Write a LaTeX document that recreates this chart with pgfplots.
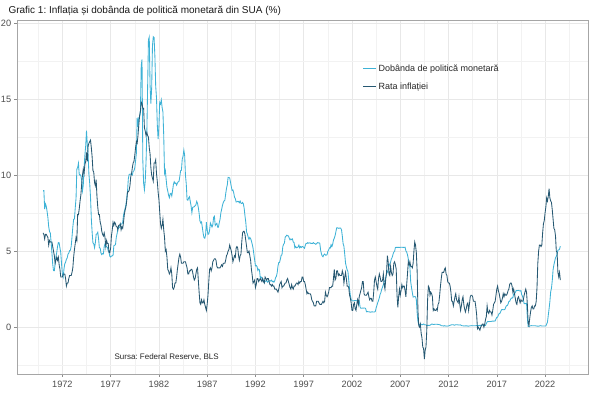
\documentclass[border=0pt]{standalone}
\usepackage{fontspec}
\setmainfont{Liberation Sans}
\usepackage{pgfplots}
\usepackage{pgfplotstable}
\pgfplotsset{compat=1.18}
\frenchspacing
\definecolor{rateblue}{RGB}{62,178,214}
\definecolor{infldark}{RGB}{38,88,114}
\definecolor{ticktext}{RGB}{77,77,77}

% Effective federal funds rate, monthly, Jan 1970 - Aug 2023
\pgfplotstableread[row sep=\\,header=false]{
8.98\\8.98\\7.76\\8.10\\7.95\\7.61\\7.21\\6.61\\6.29\\6.20\\5.60\\4.90\\
4.14\\3.72\\3.71\\4.15\\4.63\\4.91\\5.31\\5.56\\5.55\\5.20\\4.91\\4.14\\
3.50\\3.29\\3.83\\4.17\\4.27\\4.46\\4.55\\4.80\\4.87\\5.04\\5.06\\5.33\\
5.94\\6.58\\7.09\\7.12\\7.84\\8.49\\10.40\\10.50\\10.78\\10.01\\10.03\\9.95\\
9.65\\8.97\\9.35\\10.51\\11.31\\11.93\\12.92\\12.01\\11.34\\10.06\\9.45\\8.53\\
7.13\\6.24\\5.54\\5.49\\5.22\\5.55\\6.10\\6.14\\6.24\\5.82\\5.22\\5.20\\
4.87\\4.77\\4.84\\4.82\\5.29\\5.48\\5.31\\5.29\\5.25\\5.02\\4.95\\4.65\\
4.61\\4.68\\4.69\\4.73\\5.35\\5.39\\5.42\\5.90\\6.14\\6.47\\6.51\\6.56\\
6.70\\6.78\\6.79\\6.89\\7.36\\7.60\\7.81\\8.04\\8.45\\8.96\\9.76\\10.03\\
10.07\\10.06\\10.09\\10.01\\10.24\\10.29\\10.47\\10.94\\11.43\\13.77\\13.18\\13.78\\
13.82\\14.13\\17.19\\17.61\\10.98\\9.47\\9.03\\9.61\\10.87\\12.81\\15.85\\18.90\\
19.08\\15.93\\14.70\\15.72\\18.52\\19.10\\19.04\\17.82\\15.87\\15.08\\13.31\\12.37\\
13.22\\14.78\\14.68\\14.94\\14.45\\14.15\\12.59\\10.12\\10.31\\9.71\\9.20\\8.95\\
8.68\\8.51\\8.77\\8.80\\8.63\\8.98\\9.37\\9.56\\9.45\\9.48\\9.34\\9.47\\
9.56\\9.59\\9.91\\10.29\\10.32\\11.06\\11.23\\11.64\\11.30\\9.99\\9.43\\8.38\\
8.35\\8.50\\8.58\\8.27\\7.97\\7.53\\7.88\\7.90\\7.92\\7.99\\8.05\\8.27\\
8.14\\7.86\\7.48\\6.99\\6.85\\6.92\\6.56\\6.17\\5.89\\5.85\\6.04\\6.91\\
6.43\\6.10\\6.13\\6.37\\6.85\\6.73\\6.58\\6.73\\7.22\\7.29\\6.69\\6.77\\
6.83\\6.58\\6.58\\6.87\\7.09\\7.51\\7.75\\8.01\\8.19\\8.30\\8.35\\8.76\\
9.12\\9.36\\9.85\\9.84\\9.81\\9.53\\9.24\\8.99\\9.02\\8.84\\8.55\\8.45\\
8.23\\8.24\\8.28\\8.26\\8.18\\8.29\\8.15\\8.13\\8.20\\8.11\\7.81\\7.31\\
6.91\\6.25\\6.12\\5.91\\5.78\\5.90\\5.82\\5.66\\5.45\\5.21\\4.81\\4.43\\
4.03\\4.06\\3.98\\3.73\\3.82\\3.76\\3.25\\3.30\\3.22\\3.10\\3.09\\2.92\\
3.02\\3.03\\3.07\\2.96\\3.00\\3.04\\3.06\\3.03\\3.09\\2.99\\3.02\\2.96\\
3.05\\3.25\\3.34\\3.56\\4.01\\4.25\\4.26\\4.47\\4.73\\4.76\\5.29\\5.45\\
5.53\\5.92\\5.98\\6.05\\6.01\\6.00\\5.85\\5.74\\5.80\\5.76\\5.80\\5.60\\
5.56\\5.22\\5.31\\5.22\\5.24\\5.27\\5.40\\5.22\\5.30\\5.24\\5.31\\5.29\\
5.25\\5.19\\5.39\\5.51\\5.50\\5.56\\5.52\\5.54\\5.54\\5.50\\5.52\\5.50\\
5.56\\5.51\\5.49\\5.45\\5.49\\5.56\\5.54\\5.55\\5.51\\5.07\\4.83\\4.68\\
4.63\\4.76\\4.81\\4.74\\4.74\\4.76\\4.99\\5.07\\5.22\\5.20\\5.42\\5.30\\
5.45\\5.73\\5.85\\6.02\\6.27\\6.53\\6.54\\6.50\\6.52\\6.51\\6.51\\6.40\\
5.98\\5.49\\5.31\\4.80\\4.21\\3.97\\3.77\\3.65\\3.07\\2.49\\2.09\\1.82\\
1.73\\1.74\\1.73\\1.75\\1.75\\1.75\\1.73\\1.74\\1.75\\1.75\\1.34\\1.24\\
1.24\\1.26\\1.25\\1.26\\1.26\\1.22\\1.01\\1.03\\1.01\\1.01\\1.00\\0.98\\
1.00\\1.01\\1.00\\1.00\\1.00\\1.03\\1.26\\1.43\\1.61\\1.76\\1.93\\2.16\\
2.28\\2.50\\2.63\\2.79\\3.00\\3.04\\3.26\\3.50\\3.62\\3.78\\4.00\\4.16\\
4.29\\4.49\\4.59\\4.79\\4.94\\4.99\\5.24\\5.25\\5.25\\5.25\\5.25\\5.24\\
5.25\\5.26\\5.26\\5.25\\5.25\\5.25\\5.26\\5.02\\4.94\\4.76\\4.49\\4.24\\
3.94\\2.98\\2.61\\2.28\\1.98\\2.00\\2.01\\2.00\\1.81\\0.97\\0.39\\0.16\\
0.15\\0.22\\0.18\\0.15\\0.18\\0.21\\0.16\\0.16\\0.15\\0.12\\0.12\\0.12\\
0.11\\0.13\\0.16\\0.20\\0.20\\0.18\\0.18\\0.19\\0.19\\0.19\\0.19\\0.18\\
0.17\\0.16\\0.14\\0.10\\0.09\\0.09\\0.07\\0.10\\0.08\\0.07\\0.08\\0.07\\
0.08\\0.10\\0.13\\0.14\\0.16\\0.16\\0.16\\0.13\\0.14\\0.16\\0.16\\0.16\\
0.14\\0.15\\0.14\\0.15\\0.11\\0.09\\0.09\\0.08\\0.08\\0.09\\0.08\\0.09\\
0.07\\0.07\\0.08\\0.09\\0.09\\0.10\\0.09\\0.09\\0.09\\0.09\\0.09\\0.12\\
0.11\\0.11\\0.11\\0.12\\0.12\\0.13\\0.13\\0.14\\0.14\\0.12\\0.12\\0.24\\
0.34\\0.38\\0.36\\0.37\\0.37\\0.38\\0.39\\0.40\\0.40\\0.40\\0.41\\0.54\\
0.65\\0.66\\0.79\\0.90\\0.91\\1.04\\1.15\\1.16\\1.15\\1.15\\1.16\\1.30\\
1.41\\1.42\\1.51\\1.69\\1.70\\1.82\\1.91\\1.91\\1.95\\2.19\\2.20\\2.27\\
2.40\\2.40\\2.41\\2.42\\2.39\\2.38\\2.40\\2.13\\2.04\\1.83\\1.55\\1.55\\
1.55\\1.58\\0.65\\0.05\\0.05\\0.08\\0.09\\0.10\\0.09\\0.09\\0.09\\0.09\\
0.09\\0.08\\0.07\\0.07\\0.06\\0.08\\0.10\\0.09\\0.08\\0.08\\0.08\\0.08\\
0.08\\0.08\\0.20\\0.33\\0.77\\1.21\\1.68\\2.33\\2.56\\3.08\\3.78\\4.10\\
4.33\\4.57\\4.65\\4.83\\5.06\\5.08\\5.12\\5.33\\
}\ffr

% CPI inflation, year-on-year, monthly, Jan 1970 - Aug 2023
\pgfplotstableread[row sep=\\,header=false]{
6.2\\6.1\\5.8\\6.1\\6.1\\6.0\\5.9\\5.4\\5.7\\5.6\\5.6\\5.6\\
5.3\\5.0\\4.7\\4.2\\4.4\\4.6\\4.4\\4.6\\4.1\\3.8\\3.3\\3.3\\
3.3\\3.5\\3.5\\3.5\\3.2\\2.7\\2.9\\2.9\\3.2\\3.4\\3.4\\3.4\\
3.6\\3.9\\4.6\\5.1\\5.5\\5.9\\5.7\\7.4\\7.4\\7.8\\8.3\\8.7\\
9.4\\10.0\\10.4\\10.1\\10.7\\10.9\\11.5\\10.9\\11.9\\12.1\\12.2\\12.3\\
11.8\\11.2\\10.3\\10.2\\9.5\\9.3\\9.7\\8.6\\7.9\\7.4\\7.4\\6.9\\
6.7\\6.3\\6.1\\6.0\\6.2\\5.9\\5.3\\5.7\\5.5\\5.5\\4.9\\4.9\\
5.2\\6.0\\6.4\\6.9\\6.7\\6.9\\6.8\\6.6\\6.6\\6.4\\6.7\\6.7\\
6.8\\6.4\\6.6\\6.5\\6.9\\7.4\\7.7\\7.9\\8.3\\8.9\\8.9\\9.0\\
9.3\\9.9\\10.1\\10.5\\10.8\\10.9\\11.3\\11.8\\12.2\\12.1\\12.6\\13.3\\
13.9\\14.2\\14.8\\14.7\\14.4\\14.4\\13.1\\12.9\\12.6\\12.8\\12.6\\12.5\\
11.8\\11.4\\10.5\\10.0\\9.8\\9.6\\10.8\\10.8\\11.0\\10.1\\9.6\\8.9\\
8.4\\7.6\\6.8\\6.5\\6.7\\7.1\\6.4\\5.9\\5.0\\5.1\\4.6\\3.8\\
3.7\\3.5\\3.6\\3.9\\3.5\\2.6\\2.5\\2.6\\2.9\\2.9\\3.3\\3.8\\
4.2\\4.6\\4.8\\4.6\\4.2\\4.2\\4.2\\4.3\\4.3\\4.3\\4.1\\3.9\\
3.5\\3.5\\3.7\\3.7\\3.8\\3.8\\3.6\\3.3\\3.1\\3.2\\3.5\\3.8\\
3.9\\3.1\\2.3\\1.6\\1.5\\1.8\\1.6\\1.6\\1.8\\1.5\\1.3\\1.1\\
1.5\\2.1\\3.0\\3.8\\3.9\\3.7\\3.9\\4.3\\4.4\\4.5\\4.5\\4.4\\
4.0\\3.9\\3.9\\3.9\\3.9\\4.0\\4.1\\4.0\\4.2\\4.2\\4.2\\4.4\\
4.7\\4.8\\5.0\\5.1\\5.4\\5.2\\5.0\\4.7\\4.3\\4.5\\4.7\\4.6\\
5.2\\5.3\\5.2\\4.7\\4.4\\4.7\\4.8\\5.6\\6.2\\6.3\\6.3\\6.1\\
5.7\\5.3\\4.9\\4.9\\5.0\\4.7\\4.4\\3.8\\3.4\\2.9\\3.0\\3.1\\
2.6\\2.8\\3.2\\3.2\\3.0\\3.1\\3.2\\3.1\\3.0\\3.2\\3.0\\2.9\\
3.3\\3.2\\3.1\\3.2\\3.2\\3.0\\2.8\\2.8\\2.7\\2.8\\2.7\\2.7\\
2.5\\2.5\\2.5\\2.4\\2.3\\2.5\\2.8\\2.9\\3.0\\2.6\\2.7\\2.7\\
2.8\\2.9\\2.9\\3.1\\3.2\\3.0\\2.8\\2.6\\2.5\\2.8\\2.6\\2.5\\
2.7\\2.7\\2.8\\2.9\\2.9\\2.8\\3.0\\2.9\\3.0\\3.0\\3.3\\3.3\\
3.0\\3.0\\2.8\\2.5\\2.2\\2.3\\2.2\\2.2\\2.2\\2.1\\1.8\\1.7\\
1.6\\1.4\\1.4\\1.4\\1.7\\1.7\\1.7\\1.6\\1.5\\1.5\\1.5\\1.6\\
1.7\\1.6\\1.7\\2.3\\2.1\\2.0\\2.1\\2.3\\2.6\\2.6\\2.6\\2.7\\
2.7\\3.2\\3.8\\3.1\\3.2\\3.7\\3.7\\3.4\\3.5\\3.4\\3.4\\3.4\\
3.7\\3.5\\2.9\\3.3\\3.6\\3.2\\2.7\\2.7\\2.6\\2.1\\1.9\\1.6\\
1.1\\1.1\\1.5\\1.6\\1.2\\1.1\\1.5\\1.8\\1.5\\2.0\\2.2\\2.4\\
2.6\\3.0\\3.0\\2.2\\2.1\\2.1\\2.1\\2.2\\2.3\\2.0\\1.8\\1.9\\
1.9\\1.7\\1.7\\2.3\\3.1\\3.3\\3.0\\2.7\\2.5\\3.2\\3.5\\3.3\\
3.0\\3.0\\3.1\\3.5\\2.8\\2.5\\3.2\\3.6\\4.7\\4.3\\3.5\\3.4\\
4.0\\3.6\\3.4\\3.5\\4.2\\4.3\\4.1\\3.8\\2.1\\1.3\\2.0\\2.5\\
2.1\\2.4\\2.8\\2.6\\2.7\\2.7\\2.4\\2.0\\2.8\\3.5\\4.3\\4.1\\
4.3\\4.0\\4.0\\3.9\\4.2\\5.0\\5.6\\5.4\\4.9\\3.7\\1.1\\0.1\\
0.0\\0.2\\-0.4\\-0.7\\-1.3\\-1.4\\-2.1\\-1.5\\-1.3\\-0.2\\1.8\\2.7\\
2.6\\2.1\\2.3\\2.2\\2.0\\1.1\\1.2\\1.1\\1.1\\1.2\\1.1\\1.5\\
1.6\\2.1\\2.7\\3.2\\3.6\\3.6\\3.6\\3.8\\3.9\\3.5\\3.4\\3.0\\
2.9\\2.9\\2.7\\2.3\\1.7\\1.7\\1.4\\1.7\\2.0\\2.2\\1.8\\1.7\\
1.6\\2.0\\1.5\\1.1\\1.4\\1.8\\2.0\\1.5\\1.2\\1.0\\1.2\\1.5\\
1.6\\1.1\\1.5\\2.0\\2.1\\2.1\\2.0\\1.7\\1.7\\1.7\\1.3\\0.8\\
-0.1\\0.0\\-0.1\\-0.2\\0.0\\0.1\\0.2\\0.2\\0.0\\0.2\\0.5\\0.7\\
1.4\\1.0\\0.9\\1.1\\1.0\\1.0\\0.8\\1.1\\1.5\\1.6\\1.7\\2.1\\
2.5\\2.7\\2.4\\2.2\\1.9\\1.6\\1.7\\1.9\\2.2\\2.0\\2.2\\2.1\\
2.1\\2.2\\2.4\\2.5\\2.8\\2.9\\2.9\\2.7\\2.3\\2.5\\2.2\\1.9\\
1.6\\1.5\\1.9\\2.0\\1.8\\1.6\\1.8\\1.7\\1.7\\1.8\\2.1\\2.3\\
2.5\\2.3\\1.5\\0.3\\0.1\\0.6\\1.0\\1.3\\1.4\\1.2\\1.2\\1.4\\
1.4\\1.7\\2.6\\4.2\\5.0\\5.4\\5.4\\5.3\\5.4\\6.2\\6.8\\7.0\\
7.5\\7.9\\8.5\\8.3\\8.6\\9.1\\8.5\\8.3\\8.2\\7.7\\7.1\\6.5\\
6.4\\6.0\\5.0\\4.9\\3.6\\3.3\\3.6\\3.1\\
}\cpi

\begin{document}
\begin{tikzpicture}[x=1pt,y=1pt]
\path[use as bounding box] (-17,-25) rectangle (583,374);
\begin{axis}[
  at={(0,0)}, anchor=south west,
  scale only axis, width=571pt, height=354pt,
  xmin=1967.3, xmax=2026.45,
  ymin=-3.08, ymax=20.2,
  xtick={1972,1977,...,2022},
  minor xtick={1969.5,1974.5,...,2024.5},
  ytick={0,5,10,15,20},
  minor ytick={-2.5,2.5,7.5,12.5,17.5},
  xticklabel style={/pgf/number format/1000 sep=},
  /pgf/number format/assume math mode=true,
  /pgf/number format/1000 sep=,
  grid=both,
  major grid style={draw=black!9, line width=0.5pt},
  minor grid style={draw=black!5, line width=0.35pt},
  axis line style={draw=black!35, line width=0.5pt},
  tick style={draw=black!45, line width=0.5pt},
  tick align=outside,
  major tick length=2.8pt,
  minor tick length=0pt,
  xtick pos=bottom, ytick pos=left,
  ticklabel style={font=\fontsize{9.2}{10}\selectfont, text=ticktext},
  xticklabel style={yshift=-1pt},
  yticklabel style={xshift=0.5pt},
  legend style={draw=none, fill=none, at={(0.605,0.879)}, anchor=north west,
    font=\fontsize{9}{10}\selectfont, text=black!85, row sep=5.5pt, inner sep=0pt,
    cells={anchor=west}, /tikz/every even column/.append style={column sep=3pt}},
  legend image code/.code={\draw[#1, line width=0.9pt] (0pt,0.3pt) -- (13pt,0.3pt);},
  clip=true,
]
\addplot[rateblue, line width=0.85pt] table[x expr=1970+\coordindex/12, y index=0] {\ffr};
\addlegendentry{Dobânda de politică monetară}
\addplot[infldark, line width=0.85pt] table[x expr=1970+\coordindex/12, y index=0] {\cpi};
\addlegendentry{Rata inflației}
\node[font=\fontsize{8}{9}\selectfont, text=black!85] at (axis cs:1982.8,-1.95) {Sursa: Federal Reserve, BLS};
\end{axis}
\node[anchor=base west, font=\fontsize{10}{12}\selectfont, text=black!90] at (-12,360.5) {Grafic 1: Inflația și dobânda de politică monetară din SUA (\%)};
\end{tikzpicture}
\end{document}
